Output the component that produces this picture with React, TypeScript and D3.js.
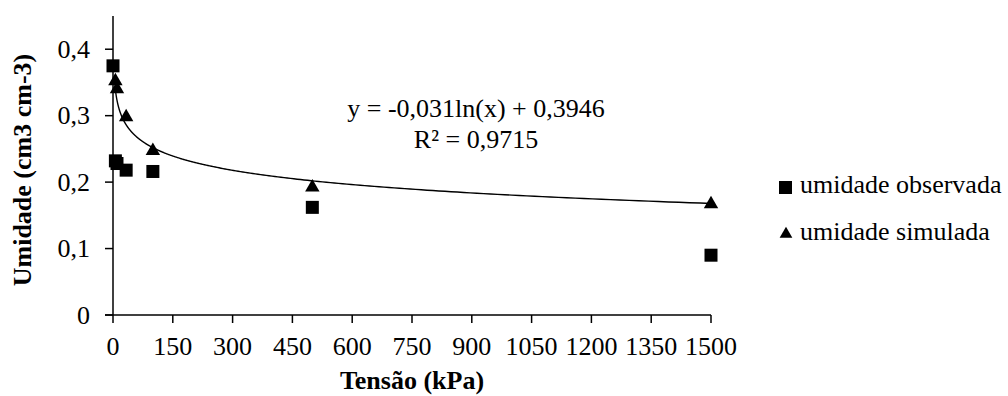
import * as d3 from "d3";

// tension (kPa) and water content (cm3 cm-3)
const obsTension = [0, 6, 10, 33, 100, 500, 1500];
const obsValues = [0.375, 0.232, 0.228, 0.218, 0.216, 0.162, 0.09];
const simTension = [6, 10, 33, 100, 500, 1500];
const simValues = [0.352, 0.34, 0.298, 0.247, 0.192, 0.167];

const xTicks = [0, 150, 300, 450, 600, 750, 900, 1050, 1200, 1350, 1500];
const yTicks = [0, 0.1, 0.2, 0.3, 0.4];

// log trendline shown on the chart
const trendA = -0.031;
const trendB = 0.3946;
const trendLabel = "y = -0,031ln(x) + 0,3946";
const r2Label = "R² = 0,9715";

const legendItems = ["umidade observada", "umidade simulada"];

const W = 1008;
const H = 396;
const font = "Liberation Serif, Times New Roman, serif";

const fmt = (v: number) => String(v).replace(".", ",");

export default function App() {
  const x = d3.scaleLinear().domain([0, 1500]).range([113, 711]);
  const y = d3.scaleLinear().domain([0, 0.45]).range([315, 16]);

  const trendX = d3.range(0, 301).map((i) => 6 * Math.pow(1500 / 6, i / 300));
  const line = d3
    .line<number>()
    .x((d) => x(d))
    .y((d) => y(trendA * Math.log(d) + trendB));

  const tri = d3.symbol().type(d3.symbolTriangle).size(90);
  const sq = 13;

  return (
    <svg width={W} height={H} style={{ position: "absolute", left: 0, top: 0, fontFamily: font }}>
      <rect width={W} height={H} fill="#fff" />

      {/* axes */}
      <line x1={x(0)} x2={x(0)} y1={y(0.45)} y2={y(0)} stroke="#000" strokeWidth={1.5} />
      <line x1={x(0) - 8} x2={x(1500)} y1={y(0)} y2={y(0)} stroke="#000" strokeWidth={1.5} />
      {yTicks.map((t) => (
        <g key={t}>
          <line x1={x(0) - 8} x2={x(0)} y1={y(t)} y2={y(t)} stroke="#000" strokeWidth={1.5} />
          <text x={x(0) - 23} y={y(t)} dy="0.33em" textAnchor="end" fontSize={26}>
            {fmt(t)}
          </text>
        </g>
      ))}
      {xTicks.map((t) => (
        <g key={t}>
          <line x1={x(t)} x2={x(t)} y1={y(0)} y2={y(0) + 8} stroke="#000" strokeWidth={1.5} />
          <text x={x(t)} y={355} textAnchor="middle" fontSize={26}>
            {t}
          </text>
        </g>
      ))}

      <text x={412} y={389} textAnchor="middle" fontSize={26} fontWeight="bold">
        Tensão (kPa)
      </text>
      <text
        transform={`translate(31,170) rotate(-90)`}
        textAnchor="middle"
        fontSize={26}
        fontWeight="bold"
      >
        Umidade (cm3 cm-3)
      </text>

      {/* trendline */}
      <path d={line(trendX) ?? ""} fill="none" stroke="#000" strokeWidth={1.4} />

      {/* points */}
      {simTension.map((t, i) => (
        <path key={"s" + i} d={tri() ?? ""} transform={`translate(${x(t)},${y(simValues[i])})`} fill="#000" />
      ))}
      {obsTension.map((t, i) => (
        <rect
          key={"o" + i}
          x={x(t) - sq / 2}
          y={y(obsValues[i]) - sq / 2}
          width={sq}
          height={sq}
          fill="#000"
        />
      ))}

      <text x={476} y={117} textAnchor="middle" fontSize={26}>
        {trendLabel}
      </text>
      <text x={476} y={148} textAnchor="middle" fontSize={26}>
        {r2Label}
      </text>

      {/* legend */}
      {legendItems.map((name, i) => {
        const ly = 193 + i * 47;
        return (
          <g key={name}>
            {i === 0 ? (
              <rect x={779} y={ly - 12} width={13} height={13} fill="#000" />
            ) : (
              <path d={d3.symbol().type(d3.symbolTriangle).size(70)() ?? ""} transform={`translate(786,${ly - 6})`} fill="#000" />
            )}
            <text x={800} y={ly} fontSize={26}>
              {name}
            </text>
          </g>
        );
      })}
    </svg>
  );
}
